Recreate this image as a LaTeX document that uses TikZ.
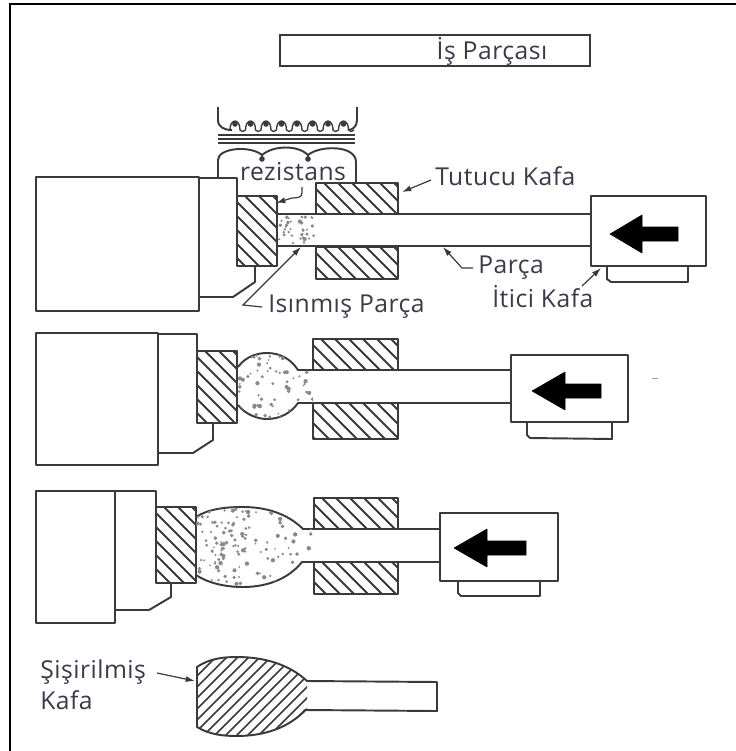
\documentclass[tikz,border=0pt]{standalone}
\usepackage{fontspec}
\setmainfont[LetterSpace=2]{Open Sans}
\usetikzlibrary{arrows.meta}
\definecolor{ink}{HTML}{3A3A3A}
\definecolor{txt}{HTML}{3A3A4A}
\tikzset{
  x=0.75pt,y=-0.75pt,
  ln/.style={draw=ink,line width=1.45pt,line join=round},
  thin ln/.style={draw=ink,line width=1pt,line join=round},
  lab/.style={font=\fontsize{18.5}{22}\selectfont,text=txt,inner sep=0pt},
  leader/.style={draw=ink,line width=0.9pt,-{Latex[length=7pt,width=4.5pt]}},
  blockarrow/.style={fill=black,draw=black,line width=0.4pt,line join=round},
  box/.style={draw=ink,line width=1.8pt,fill=white,inner sep=0pt,anchor=north west}
}
\newcommand{\hatchrect}[4]{% x1 y1 x2 y2, lines falling to the right
  \begin{scope}
    \clip (#1,#2) rectangle (#3,#4);
    \foreach \k in {-104,-90,...,150}{
      \draw[draw=ink,line width=1.4pt] (#1+\k,#2) -- ++(120,120);
    }
  \end{scope}
  \draw[ln] (#1,#2) rectangle (#3,#4);
}
\newcommand{\pushhead}[5]{% x tip, y mid, x head end, half head, x tail
  \fill[blockarrow] (#1,#2) -- (#3,#2-#4) -- (#3,#2-7) -- (#5,#2-7) -- (#5,#2+7) -- (#3,#2+7) -- (#3,#2+#4) -- cycle;
}
\newcommand{\speckle}[6]{% seed x1 y1 w h count
  \pgfmathsetseed{#1}
  \foreach \i in {1,...,#6}{
    \pgfmathsetmacro{\px}{#2+rnd*#4}
    \pgfmathsetmacro{\py}{#3+rnd*#5}
    \pgfmathsetmacro{\pr}{0.9+rnd*1.3}
    \fill[ink!60] (\px,\py) circle[radius=\pr];
  }
}
\begin{document}
\begin{tikzpicture}
\useasboundingbox (0,0) rectangle (736,751);
\fill[white] (0,0) rectangle (736,751);
\draw[draw=black,line width=1.5pt] (736,4) -- (10,4) -- (10,751);

% title
\node[box,minimum width=232.5pt,minimum height=23pt] (title) at (279,34) {};
\node[lab] (titletext) at (492,51) {İş Parçası};

% ---- row 1
\draw[ln] (36,177) rectangle (199,311);
\draw[ln] (199,178) -- (237,178) -- (237,196);
\draw[ln] (255,266) -- (255,282) -- (233,297) -- (199,297);
\hatchrect{237}{196}{277}{266}
\hatchrect{316}{183}{398}{214}
\hatchrect{316}{247}{398}{279}
\draw[ln] (277,214) -- (591,214);
\draw[ln] (277,246) -- (591,246);
\speckle{11}{279}{216}{38}{28}{38}
\draw[ln] (591,196) rectangle (706,266);
\draw[ln] (607,267) -- (607,279) -- (611,282) -- (688,282) -- (688,267);
\pushhead{610}{234}{642}{19}{678}
% transformer
\draw[ln] (218,107) -- (218,120) .. controls (218,127) and (224,130) .. (232,130);
\foreach \b in {235,250.5,...,345}{
  \draw[thin ln] (\b-5,130) .. controls (\b-5,118) and (\b+5,118) .. (\b+5,130) .. controls (\b+7,132) and (\b+8,132) .. (\b+10.5,130);
  \fill[ink] (\b,124) circle[radius=2.8];
}
\draw[ln] (357,107) -- (357,120) .. controls (357,127) and (352,130) .. (348,130);
\draw[ln] (218,135) -- (355,135);
\draw[ln] (218,139) -- (355,139);
\draw[ln] (218,143) -- (355,143);
\draw[ln] (218,178) -- (218,160) .. controls (218,148) and (250,145) .. (262,155) .. controls (274,145) and (298,145) .. (308,155) .. controls (320,145) and (356,145) .. (356,162) -- (356,183);
\draw[ln] (262,155) -- (262,160);
\draw[ln] (308,155) -- (308,160);
\fill[ink] (262,159) circle[radius=2.8];
\fill[ink] (308,159) circle[radius=2.8];
\node[lab] (rez) at (293,172) {rezistans};
\coordinate (rezlead) at (302,187);
\coordinate (rezend) at (276,203);
\draw[leader] (rezlead) -- (302,193) .. controls (302,197) and (298,198) .. (292,198) -- (rezend);
% labels row 1
\node[lab,anchor=west] (tut) at (435,176) {Tutucu Kafa};
\coordinate (tutstart) at (431,180);
\coordinate (tutend) at (402,192);
\draw[leader] (tutstart) -- (tutend);
\node[lab,anchor=west] (isin) at (268,307) {Isınmış Parça};
\coordinate (isinstart) at (262,307);
\coordinate (isinend) at (301,247);
\draw[leader] (isinstart) -- (243,305) -- (isinend);
\node[lab,anchor=west] (parca) at (478,268) {Parça};
\coordinate (parstart) at (473,268);
\coordinate (parend) at (443,247);
\draw[leader] (parstart) -- (462,268) -- (parend);
\node[lab,anchor=west] (itici) at (492,297) {İtici Kafa};
\coordinate (itistart) at (582,286);
\coordinate (itiend) at (601,268);
\draw[leader] (itistart) -- (itiend);

% ---- row 2
\draw[ln] (36,333) rectangle (158,465);
\draw[ln] (158,334) -- (197,334) -- (197,351);
\draw[ln] (213,423) -- (213,440) -- (193,453) -- (158,453);
\hatchrect{197}{351}{237}{423}
\hatchrect{313}{339}{398}{370}
\hatchrect{313}{403}{398}{439}
\draw[ln] (238,367) .. controls (246,356) and (258,353) .. (267,353) .. controls (280,353) and (291,359) .. (298,370) -- (313,370);
\draw[ln] (238,405) .. controls (246,415) and (258,419) .. (267,419) .. controls (280,419) and (291,413) .. (298,403) -- (313,403);
\draw[ln] (398,370) -- (511,370);
\draw[ln] (398,403) -- (511,403);
\begin{scope}
\clip (238,367) .. controls (246,356) and (258,353) .. (267,353) .. controls (280,353) and (291,359) .. (298,370) -- (313,370) -- (313,403) -- (298,403) .. controls (291,413) and (280,419) .. (267,419) .. controls (258,419) and (246,415) .. (238,405) -- cycle;
\speckle{23}{239}{354}{74}{64}{70}
\end{scope}
\draw[ln] (511,355) rectangle (628,422);
\draw[ln] (527,423) -- (527,435) -- (530,438) -- (612,439) -- (612,423);
\pushhead{532}{391}{565}{19}{601}
\fill[ink!50] (652,378) rectangle (658,379);

% ---- row 3
\draw[ln] (36,491) -- (36,623) -- (115,623) -- (115,491) -- cycle;
\draw[ln] (115,491) -- (156,491) -- (156,507);
\draw[ln] (171,583) -- (171,597) -- (149,610) -- (115,610);
\hatchrect{156}{507}{196}{583}
\hatchrect{314}{498}{398}{529}
\hatchrect{314}{562}{398}{594}
\draw[ln] (196,517) .. controls (208,509) and (225,507) .. (243,507) .. controls (270,507) and (290,516) .. (303,529) -- (314,529);
\draw[ln] (196,575) .. controls (208,583) and (225,587) .. (243,587) .. controls (270,587) and (290,577) .. (302,562) -- (314,562);
\draw[ln] (398,529) -- (440,529);
\draw[ln] (398,562) -- (440,562);
\begin{scope}
\clip (196,517) .. controls (208,509) and (225,507) .. (243,507) .. controls (270,507) and (290,516) .. (303,529) -- (314,529) -- (314,562) -- (302,562) .. controls (290,577) and (270,587) .. (243,587) .. controls (225,587) and (208,583) .. (196,575) -- cycle;
\speckle{37}{197}{508}{50}{78}{90}
\speckle{41}{245}{510}{69}{74}{45}
\end{scope}
\draw[ln] (440,513) rectangle (558,581);
\draw[ln] (458,582) -- (458,593) -- (461,596) -- (540,596) -- (540,582);
\pushhead{454}{548}{487}{19}{526}

% ---- row 4
\begin{scope}
\clip (197,667) .. controls (210,658) and (225,657) .. (237,657) .. controls (265,657) and (290,665) .. (307,681) -- (307,710) .. controls (290,727) and (265,736) .. (237,736) .. controls (225,736) and (210,735) .. (197,727) -- cycle;
\foreach \k in {0,11,...,220}{
  \draw[draw=ink,line width=1.2pt] (190+\k,650) -- ++(-100,100);
}
\end{scope}
\draw[ln] (197,667) .. controls (210,658) and (225,657) .. (237,657) .. controls (265,657) and (290,665) .. (307,681) -- (437,682) -- (437,711) -- (305,710) .. controls (290,727) and (265,736) .. (237,736) .. controls (225,736) and (210,735) .. (197,727) -- cycle;
\node[lab,anchor=west] (sis) at (40,672) {Şişirilmiş};
\node[lab,anchor=west] (kafa) at (40,700) {Kafa};
\coordinate (sisstart) at (157,673);
\coordinate (sisend) at (195,681);
\draw[leader] (sisstart) -- (sisend);
\end{tikzpicture}
\end{document}
